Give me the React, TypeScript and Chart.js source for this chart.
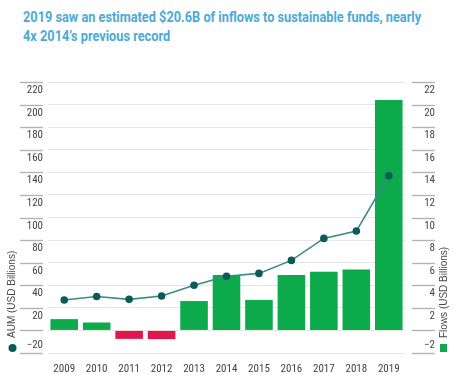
import React, { useEffect, useRef } from 'react';
import { Chart, registerables } from 'chart.js';

Chart.register(...registerables);

const titleLines = [
  '2019 saw an estimated $20.6B of inflows to sustainable funds, nearly',
  '4x 2014\u2019s previous record',
];
const years = ['2009', '2010', '2011', '2012', '2013', '2014', '2015', '2016', '2017', '2018', '2019'];
const aumBillions = [27, 30, 27.5, 30.5, 40, 48, 50.5, 62, 81.5, 88, 137];
const flowsBillions = [1.0, 0.7, -0.75, -0.77, 2.6, 4.9, 2.7, 4.9, 5.2, 5.4, 20.4];
const aumTicks = { min: -20, max: 220, step: 20 };
const flowTicks = { min: -2, max: 22, step: 2 };
const aumAxisTitle = 'AUM (USD Billions)';
const flowAxisTitle = 'Flows (USD Billions)';

const GREEN = '#0CAA4B';
const RED = '#E2164B';
const TEAL_DOT = '#0B5B5A';
const TEAL_LINE = '#3A8A88';
const TITLE_BLUE = '#4BAAD8';
const MINUS = '\u2212';
const TICK_FONT = '"Liberation Sans Narrow", "Roboto Condensed", "DejaVu Sans Condensed", sans-serif';

function tickLabel(v: number, min: number): string | string[] {
  if (v === 0) return '';
  const s = v < 0 ? MINUS + Math.abs(v) : String(v);
  return v === min ? [s, ''] : ['', s];
}

const sidePlugin = {
  id: 'sideDecor',
  afterDraw(chart: any) {
    const ctx = chart.ctx as CanvasRenderingContext2D;
    const y = chart.scales.y;
    const y1 = chart.scales.y1;
    const bottom = chart.chartArea.bottom;
    ctx.save();
    ctx.strokeStyle = '#b4b4b4';
    ctx.lineWidth = 1.4;
    y.ticks.forEach((t: any) => {
      const py = Math.round(y.getPixelForValue(t.value)) + 0.5;
      ctx.beginPath();
      ctx.moveTo(y.right - 28, py);
      ctx.lineTo(y.right - 5, py);
      ctx.stroke();
    });
    y1.ticks.forEach((t: any) => {
      const py = Math.round(y1.getPixelForValue(t.value)) + 0.5;
      ctx.beginPath();
      ctx.moveTo(y1.left + 7, py);
      ctx.lineTo(y1.right, py);
      ctx.stroke();
    });
    ctx.font = '10px "Liberation Sans", Arial, sans-serif';
    ctx.fillStyle = '#4a4a4a';
    ctx.textBaseline = 'middle';
    ctx.textAlign = 'left';
    ctx.save();
    ctx.translate(12.5, bottom - 15);
    ctx.rotate(-Math.PI / 2);
    ctx.fillText(aumAxisTitle, 0, 0);
    ctx.restore();
    ctx.save();
    ctx.translate(444, bottom - 15);
    ctx.rotate(-Math.PI / 2);
    ctx.fillText(flowAxisTitle, 0, 0);
    ctx.restore();
    ctx.fillStyle = TEAL_DOT;
    ctx.beginPath();
    ctx.arc(12.5, bottom - 5, 4, 0, Math.PI * 2);
    ctx.fill();
    ctx.fillStyle = GREEN;
    ctx.fillRect(440, bottom - 9, 7, 8);
    ctx.restore();
  },
};

export default function App() {
  const canvasRef = useRef<HTMLCanvasElement | null>(null);

  useEffect(() => {
    if (!canvasRef.current) return;
    const tickFont = { family: TICK_FONT, size: 11, lineHeight: 1.5 };
    const chart = new Chart(canvasRef.current, {
      type: 'bar',
      data: {
        labels: years,
        datasets: [
          {
            type: 'line',
            label: 'AUM',
            data: aumBillions,
            yAxisID: 'y',
            order: 0,
            borderColor: TEAL_LINE,
            borderWidth: 1.6,
            pointBackgroundColor: TEAL_DOT,
            pointBorderColor: TEAL_DOT,
            pointRadius: 3.8,
            pointBorderWidth: 0,
            tension: 0,
          } as any,
          {
            type: 'bar',
            label: 'Flows',
            data: flowsBillions,
            yAxisID: 'y1',
            order: 1,
            backgroundColor: flowsBillions.map((v) => (v < 0 ? RED : GREEN)),
            barPercentage: 0.85,
            categoryPercentage: 1,
            borderWidth: 0,
          },
        ],
      },
      options: {
        animation: false,
        responsive: true,
        maintainAspectRatio: false,
        layout: { padding: { top: 82, left: 0, right: 35, bottom: 0 } },
        plugins: {
          legend: { display: false },
          tooltip: { enabled: false },
          title: { display: false },
        },
        scales: {
          x: {
            grid: { display: false },
            border: { display: false },
            ticks: { font: { family: TICK_FONT, size: 11 }, color: '#444', padding: 2, maxRotation: 0, autoSkip: false },
            afterFit: (s: any) => {
              s.height = 22;
              s.paddingLeft = 0;
              s.paddingRight = 0;
            },
          },
          y: {
            position: 'left',
            min: aumTicks.min,
            max: aumTicks.max,
            grid: { color: '#e6e6e6', lineWidth: 1, drawTicks: false },
            border: { display: false },
            ticks: {
              stepSize: aumTicks.step,
              autoSkip: false,
              padding: 5,
              font: tickFont,
              color: '#444',
              callback: (v: any) => tickLabel(Number(v), aumTicks.min),
            },
            afterFit: (s: any) => {
              s.width = 48;
              s.paddingTop = 0;
              s.paddingBottom = 0;
            },
          },
          y1: {
            position: 'right',
            min: flowTicks.min,
            max: flowTicks.max,
            grid: { drawOnChartArea: false, drawTicks: false },
            border: { display: false },
            ticks: {
              stepSize: flowTicks.step,
              autoSkip: false,
              padding: 5,
              crossAlign: 'far',
              font: tickFont,
              color: '#444',
              callback: (v: any) => tickLabel(Number(v), flowTicks.min),
            },
            afterFit: (s: any) => {
              s.width = 30;
              s.paddingTop = 0;
              s.paddingBottom = 0;
            },
          },
        },
      },
      plugins: [sidePlugin],
    });
    return () => chart.destroy();
  }, []);

  return (
    <div style={{ position: 'fixed', left: 0, top: 0, width: 470, height: 375, background: '#fff' }}>
      <div
        style={{
          position: 'absolute',
          left: 23,
          top: 9,
          fontFamily: 'Roboto, sans-serif',
          fontWeight: 700,
          fontSize: 14.5,
          lineHeight: '18.7px',
          color: TITLE_BLUE,
          whiteSpace: 'nowrap',
          transform: 'scaleX(0.88)',
          transformOrigin: '0 0',
        }}
      >
        {titleLines[0]}
        <br />
        {titleLines[1]}
      </div>
      <canvas ref={canvasRef} style={{ position: 'absolute', left: 0, top: 0 }} />
    </div>
  );
}
